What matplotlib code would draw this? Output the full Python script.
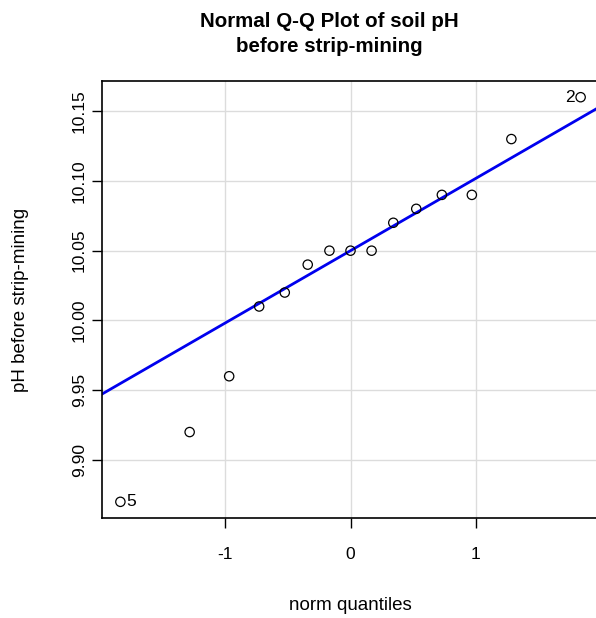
import numpy as np
import matplotlib
matplotlib.use("Agg")
import matplotlib.pyplot as plt

plt.rcParams['font.family'] = ['Liberation Sans', 'DejaVu Sans']
plt.rcParams['axes.unicode_minus'] = False

# theoretical normal quantiles, ppoints(15)
norm_q = [-1.834, -1.282, -0.967, -0.728, -0.524, -0.341, -0.168, 0.0,
          0.168, 0.341, 0.524, 0.728, 0.967, 1.282, 1.834]
# sorted soil pH values
ph = [9.87, 9.92, 9.96, 10.01, 10.02, 10.04, 10.05, 10.05,
      10.05, 10.07, 10.08, 10.09, 10.09, 10.13, 10.16]
# labelled points (index in sorted data, label text)
labels = [(0, "5"), (14, "2")]

x = np.array(norm_q)
y = np.array(ph)

# robust line through the quartiles
q1, q3 = np.quantile(y, [0.25, 0.75])
z1, z3 = -0.6744898, 0.6744898
slope = (q3 - q1) / (z3 - z1)
intercept = q1 - slope * z1

fig = plt.figure(figsize=(5.96, 6.18), dpi=100)
ax = fig.add_axes([0.1711, 0.1618, 0.834, 0.7071])

xpad = 0.04 * (x.max() - x.min())
ypad = 0.04 * (y.max() - y.min())
ax.set_xlim(x.min() - xpad, x.max() + xpad)
ax.set_ylim(y.min() - ypad, y.max() + ypad)

ax.set_xticks([-1, 0, 1])
ax.set_yticks([9.90, 9.95, 10.00, 10.05, 10.10, 10.15])
ax.set_yticklabels(["9.90", "9.95", "10.00", "10.05", "10.10", "10.15"],
                   rotation=90, va="center")
ax.grid(True, color="#dcdcdc", linewidth=1)
ax.set_axisbelow(True)

ax.scatter(x, y, s=45, facecolors="none", edgecolors="black", linewidths=0.9, zorder=3)
xs = np.array(ax.get_xlim())
ax.plot(xs, intercept + slope * xs, color="#0000ee", linewidth=2, zorder=2)

for i, txt in labels:
    if x[i] < 0:
        ax.text(x[i] + 0.045, y[i], txt, ha="left", va="center", fontsize=12.5)
    else:
        ax.text(x[i] - 0.045, y[i], txt, ha="right", va="center", fontsize=12.5)

for s in ax.spines.values():
    s.set_linewidth(1.2)
ax.tick_params(labelsize=12.5, length=7, width=1)
ax.tick_params(axis="x", pad=14)
ax.tick_params(axis="y", pad=4)

ax.set_xlabel("norm quantiles", fontsize=13.5, labelpad=25)
ax.set_ylabel("pH before strip-mining", fontsize=13.5, labelpad=31)
ax.set_title("Normal Q-Q Plot of soil pH\nbefore strip-mining", x=0.457,
             fontsize=14.8, fontweight="bold", pad=21, linespacing=1.38)

fig.savefig("out.png", dpi=100)
